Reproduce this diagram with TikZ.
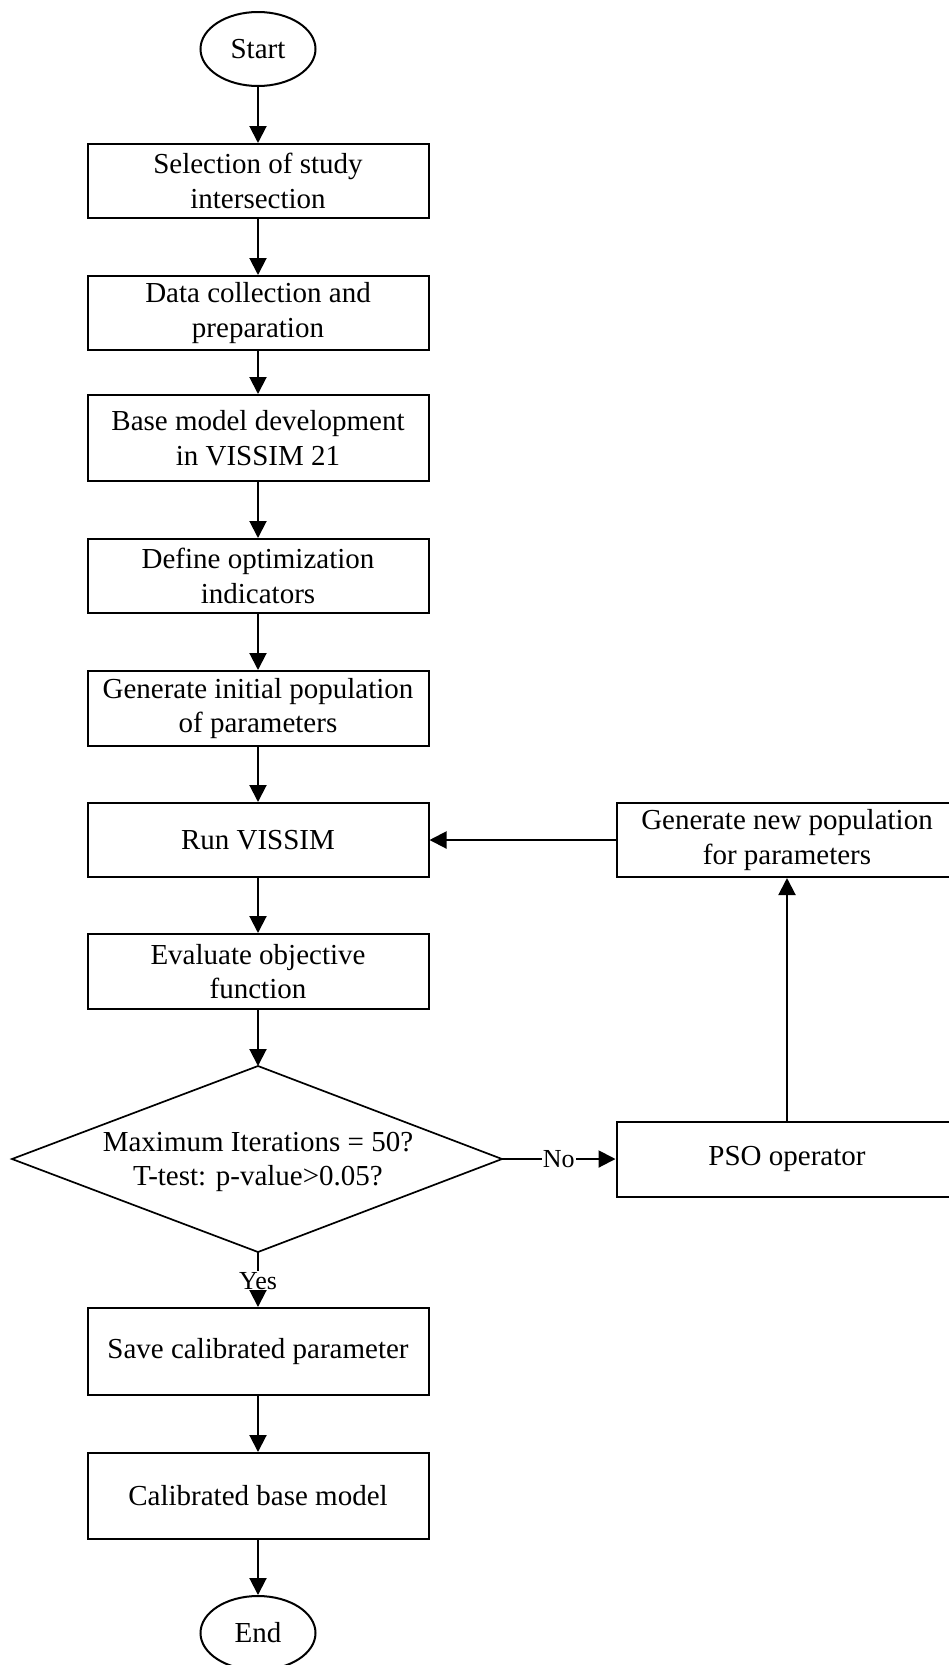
\documentclass[tikz,border=0pt]{standalone}
\usepackage{fontspec}
\setmainfont{Liberation Serif}
\usetikzlibrary{arrows.meta,shapes.geometric}
\begin{document}
\begin{tikzpicture}[x=1pt,y=-1pt,
  every node/.style={font=\fontsize{29pt}{34.5pt}\selectfont},
  box/.style={draw, line width=2pt, rectangle, minimum width=341pt, inner sep=0pt, align=center},
  term/.style={draw, line width=2pt, ellipse, minimum width=115pt, minimum height=74pt, inner sep=0pt},
  arr/.style={line width=2pt, -{Triangle[length=17pt,width=17pt]}},
  lbl/.style={font=\fontsize{26pt}{30pt}\selectfont, fill=white, inner sep=1pt}
]
\useasboundingbox (0,0) rectangle (949,1665);

\node[term] (start) at (258,49) {Start};
\node[box, minimum height=74pt] (b1) at (258,181) {Selection of study\\intersection};
\node[box, minimum height=74pt] (b2) at (258,313) {Data collection and\\preparation};
\node[box, minimum height=86pt] (b3) at (258,438) {Base model development\\in VISSIM 21};
\node[box, minimum height=74pt] (b4) at (258,576) {Define optimization\\indicators};
\node[box, minimum height=75pt] (b5) at (258,708.5) {Generate initial population\\of parameters};
\node[box, minimum height=74pt] (b6) at (258,840) {Run VISSIM};
\node[box, minimum height=75pt] (b7) at (258,971.5) {Evaluate objective\\function};

\coordinate (dT) at (258,1066);
\coordinate (dB) at (258,1252);
\coordinate (dL) at (12,1159);
\coordinate (dR) at (502,1159);
\draw[line width=1.7pt, line join=miter] (dT) -- (dR) -- (dB) -- (dL) -- cycle;
\node[align=center] (dtext) at (258,1162) {Maximum Iterations = 50?\\T-test: p-value>0.05?};

\node[box, minimum height=87pt] (b8) at (258,1351.5) {Save calibrated parameter};
\node[box, minimum height=86pt] (b9) at (258,1496) {Calibrated base model};
\node[term] (end) at (258,1633) {End};

\node[box, minimum height=74pt] (gen) at (787,840) {Generate new population\\for parameters};
\node[box, minimum height=75pt] (pso) at (787,1159) {PSO operator};

\draw[arr] (start.south) -- (b1.north);
\draw[arr] (b1.south) -- (b2.north);
\draw[arr] (b2.south) -- (b3.north);
\draw[arr] (b3.south) -- (b4.north);
\draw[arr] (b4.south) -- (b5.north);
\draw[arr] (b5.south) -- (b6.north);
\draw[arr] (b6.south) -- (b7.north);
\draw[arr] (b7.south) -- (dT);
\draw[arr] (dB) -- node[lbl, pos=0.52] {Yes} (b8.north);
\draw[arr] (b8.south) -- (b9.north);
\draw[arr] (b9.south) -- (end.north);
\draw[arr] (dR) -- node[lbl] {No} (pso.west);
\draw[arr] (pso.north) -- (gen.south);
\draw[arr] (gen.west) -- (b6.east);
\end{tikzpicture}
\end{document}
